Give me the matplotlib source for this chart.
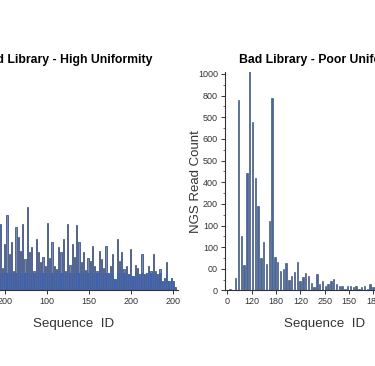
import numpy as np
import matplotlib.pyplot as plt
from matplotlib.ticker import MultipleLocator

plt.rcParams['font.family'] = ['Liberation Sans', 'DejaVu Sans']

# left panel: good library, read counts per sequence (visible part)
good_counts = [306, 106, 213, 350, 167, 222, 88, 292, 245, 181, 306, 144, 384, 176,
               199, 88, 236, 176, 130, 153, 111, 310, 148, 222, 111, 97, 199,
               176, 236, 88, 306, 120, 213, 157, 301, 222, 130, 176, 95, 150,
               134, 204, 111, 88, 181, 144, 106, 204, 83, 111, 167, 51, 240, 134,
               176, 97, 111, 74, 190, 65, 120, 106, 74, 167, 74, 83, 111, 88, 167,
               88, 74, 97, 42, 60, 130, 42, 60, 42, 14]
good_ticklabels = ['200', '100', '150', '200', '200']

# right panel: bad library, read counts per sequence
bad_counts = [8, 0, 58, 880, 250, 120, 543, 1034, 776, 518, 390, 151, 225, 122,
              322, 890, 154, 131, 88, 100, 126, 50, 65, 86,
              130, 45, 62, 80, 65, 34, 16, 74, 28, 46, 19, 28, 46, 55, 32, 23,
              19, 9, 23, 19, 15, 19, 9, 14, 23, 9, 28, 16, 9, 14]
bad_xticklabels = ['0', '120', '180', '120', '250', '150', '180']
bad_yticklabels = ['0', '00', '100', '100', '200', '400', '500', '600', '500', '800', '1000']

fig = plt.figure(figsize=(3.75, 3.66), dpi=100)

ax1 = fig.add_axes([-0.1067, 0.2063, 0.5813, 0.5975])
ax2 = fig.add_axes([0.6, 0.2063, 0.5333, 0.5975])

# ---- good library (bars fade from bright blue at the base to grey-blue)
xg = np.arange(len(good_counts))
ax1.bar(xg, good_counts, width=0.62, color='#7189bb', edgecolor='#2b406f', linewidth=0.5)
ax1.bar(xg, np.minimum(good_counts, 80), width=0.62, color='#3c62b4', linewidth=0)
ax1.set_xlim(-17.9, 79.0)
ax1.set_ylim(0, 1010)
ax1.set_xticks(2.1 + 18.67 * np.arange(len(good_ticklabels)))
ax1.set_xticklabels(good_ticklabels)
ax1.set_yticks([])
ax1.set_title('Good Library - High Uniformity', fontsize=8.8, fontweight='bold',
              pad=6, x=0.468)
ax1.set_xlabel('Sequence  ID', fontsize=9.6, color='#333333', labelpad=8, x=0.52)

# ---- bad library
xb = np.arange(1, len(bad_counts) + 1)
ax2.bar(xb, bad_counts, width=0.5, color='#48679c', edgecolor='#2c4470', linewidth=0.4)
ax2.set_xlim(-0.8, 70.6)
ax2.set_ylim(0, 1010)
ax2.set_xticks(8.7 * np.arange(len(bad_xticklabels)))
ax2.set_xticklabels(bad_xticklabels)
ax2.set_yticks(np.arange(0, 1001, 100))
ax2.set_yticklabels(bad_yticklabels)
ax2.yaxis.set_minor_locator(MultipleLocator(50))
ax2.set_title('Bad Library - Poor Uniformity', fontsize=8.8, fontweight='bold', pad=6)
ax2.set_xlabel('Sequence  ID', fontsize=9.6, color='#333333', labelpad=8)
ax2.set_ylabel('NGS Read Count', fontsize=9.5, color='#333333', labelpad=-3)

for ax in (ax1, ax2):
    for s in ('top', 'right'):
        ax.spines[s].set_visible(False)
    for s in ('left', 'bottom'):
        ax.spines[s].set_color('#333333')
        ax.spines[s].set_linewidth(0.8)
    ax.tick_params(axis='both', which='major', length=3, width=0.7, labelsize=6.5,
                   colors='#333333', pad=2)
    ax.tick_params(axis='both', which='minor', length=1.8, width=0.5, colors='#333333')

fig.savefig('out.png', dpi=100)
